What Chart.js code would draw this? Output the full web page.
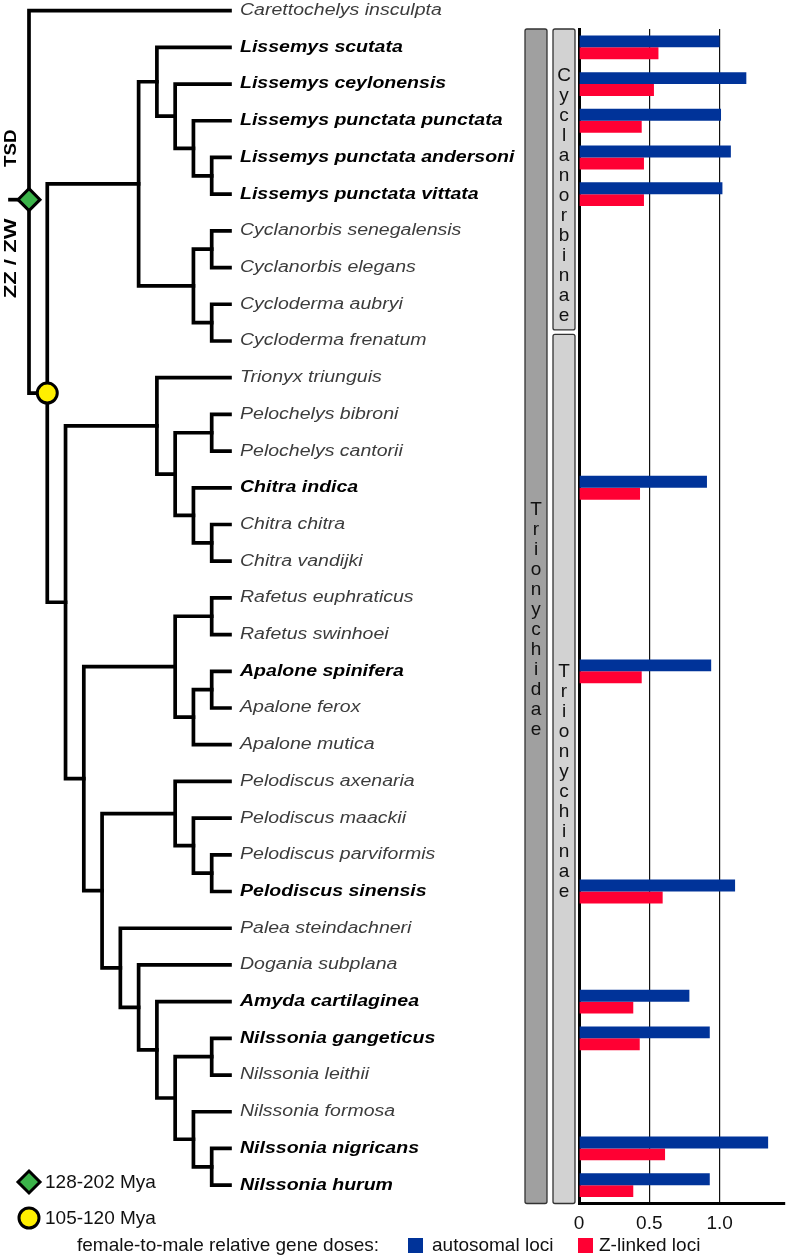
<!DOCTYPE html>
<html>
<head>
<meta charset="utf-8">
<script src="https://cdn.jsdelivr.net/npm/chart.js@4.4.1/dist/chart.umd.min.js"></script>
<style>
    html, body { margin: 0; padding: 0; background: #fff; }
    #wrap { position: relative; width: 787px; height: 1259px; }
</style>
</head>
<body>
<div id="wrap"><canvas id="chart"></canvas></div>
<script>
// species, top to bottom (row index = position in the tree)
const species = [
    'Carettochelys insculpta',
    'Lissemys scutata', 'Lissemys ceylonensis', 'Lissemys punctata punctata',
    'Lissemys punctata andersoni', 'Lissemys punctata vittata',
    'Cyclanorbis senegalensis', 'Cyclanorbis elegans', 'Cycloderma aubryi', 'Cycloderma frenatum',
    'Trionyx triunguis', 'Pelochelys bibroni', 'Pelochelys cantorii',
    'Chitra indica', 'Chitra chitra', 'Chitra vandijki',
    'Rafetus euphraticus', 'Rafetus swinhoei',
    'Apalone spinifera', 'Apalone ferox', 'Apalone mutica',
    'Pelodiscus axenaria', 'Pelodiscus maackii', 'Pelodiscus parviformis', 'Pelodiscus sinensis',
    'Palea steindachneri', 'Dogania subplana', 'Amyda cartilaginea',
    'Nilssonia gangeticus', 'Nilssonia leithii', 'Nilssonia formosa',
    'Nilssonia nigricans', 'Nilssonia hurum'
];

// female-to-male relative gene doses (null = not sampled)
const autosomal = [null, 1.0, 1.19, 1.01, 1.08, 1.02, null, null, null, null,
    null, null, null, 0.91, null, null, null, null, 0.94, null, null,
    null, null, null, 1.11, null, null, 0.785, 0.93, null, null, 1.345, 0.93];
const zLinked = [null, 0.565, 0.533, 0.446, 0.462, 0.462, null, null, null, null,
    null, null, null, 0.434, null, null, null, null, 0.446, null, null,
    null, null, null, 0.595, null, null, 0.386, 0.432, null, null, 0.612, 0.386];

const xTicks = [0, 0.5, 1.0];

// topology: node(level, ...children), leaves are row indices
function node(level, ...kids) { return { level, kids }; }
const trionychidae = node(1,
    node(6,
        node(7, 1, node(8, 2, node(9, 3, node(10, 4, 5)))),
        node(9, node(10, 6, 7), node(10, 8, 9))
    ),
    node(2,
        node(7, 10, node(8, node(10, 11, 12), node(9, 13, node(10, 14, 15)))),
        node(3,
            node(8, node(10, 16, 17), node(9, node(10, 18, 19), 20)),
            node(4,
                node(8, 21, node(9, 22, node(10, 23, 24))),
                node(5, 25, node(6, 26, node(7, 27,
                    node(8, node(10, 28, 29), node(9, 30, node(10, 31, 32))))))
            )
        )
    )
);
const tree = node(0, 0, trionychidae);

// clade bars: name, first row edge, last row edge, letter centre row
const clades = [
    { name: 'Trionychidae', from: 0.5, to: 32.5, mid: 16.6, col: 0 },
    { name: 'Cyclanorbinae', from: 0.5, to: 8.7, mid: 5.05, col: 1 },
    { name: 'Trionychinae', from: 8.82, to: 32.5, mid: 21.0, col: 1 }
];

const TREE_LEFT = 29;
const TREE_STEP = 18.27;
const TIP_LEVEL = 11;
const SANS = '"Liberation Sans", Arial, sans-serif';

function treeX(level) { return TREE_LEFT + level * TREE_STEP; }

function text(ctx, s, x, y, font, color, sx, align) {
    ctx.save();
    ctx.font = font;
    ctx.fillStyle = color;
    ctx.textBaseline = 'middle';
    ctx.textAlign = align || 'left';
    ctx.translate(x, y);
    ctx.scale(sx || 1, 1);
    ctx.fillText(s, 0, 0);
    ctx.restore();
}

function diamond(ctx, x, y, r) {
    ctx.beginPath();
    ctx.moveTo(x, y - r); ctx.lineTo(x + r, y); ctx.lineTo(x, y + r); ctx.lineTo(x - r, y);
    ctx.closePath();
    ctx.fillStyle = '#3cb34a';
    ctx.fill();
    ctx.lineWidth = 3;
    ctx.strokeStyle = '#000';
    ctx.stroke();
}

function circle(ctx, x, y, r) {
    ctx.beginPath();
    ctx.arc(x, y, r, 0, Math.PI * 2);
    ctx.fillStyle = '#ffef00';
    ctx.fill();
    ctx.lineWidth = 3;
    ctx.strokeStyle = '#000';
    ctx.stroke();
}

// draws the node, returns its position
function drawNode(ctx, n, rowY, marks) {
    if (typeof n === 'number') return { x: treeX(TIP_LEVEL), y: rowY(n) };
    const x = treeX(n.level);
    const kids = n.kids.map(k => drawNode(ctx, k, rowY, marks));
    ctx.beginPath();
    kids.forEach(k => { ctx.moveTo(x, k.y); ctx.lineTo(k.x, k.y); });
    ctx.moveTo(x, kids[0].y);
    ctx.lineTo(x, kids[kids.length - 1].y);
    ctx.stroke();
    const pos = { x: x, y: (kids[0].y + kids[kids.length - 1].y) / 2 };
    if (n === trionychidae) marks.circle = pos;
    return pos;
}

const treePlugin = {
    id: 'tree',
    afterDraw(chart) {
        const ctx = chart.ctx;
        const yScale = chart.scales.y;
        const rowY = i => yScale.getPixelForValue(i);

        // tree
        ctx.save();
        ctx.strokeStyle = '#000';
        ctx.lineWidth = 3.7;
        ctx.lineCap = 'square';
        const marks = {};
        drawNode(ctx, tree, rowY, marks);

        // TSD -> ZZ/ZW transition on the stem
        const dy = rowY(5.15);
        ctx.beginPath();
        ctx.moveTo(10, dy); ctx.lineTo(treeX(0), dy);
        ctx.stroke();
        ctx.restore();
        diamond(ctx, treeX(0), dy, 11);
        circle(ctx, marks.circle.x, marks.circle.y, 10);

        ctx.save();
        ctx.translate(11, rowY(3.75));
        ctx.rotate(-Math.PI / 2);
        text(ctx, 'TSD', 0, 0, 'bold 17px ' + SANS, '#000', 1.1, 'center');
        ctx.restore();
        ctx.save();
        ctx.translate(11, rowY(6.75));
        ctx.rotate(-Math.PI / 2);
        text(ctx, 'ZZ / ZW', 0, 0, 'bold 17px ' + SANS, '#000', 1.3, 'center');
        ctx.restore();

        // species names
        species.forEach((s, i) => {
            const sampled = autosomal[i] !== null;
            text(ctx, s, 240, rowY(i),
                (sampled ? 'italic bold 16px ' : 'italic 16px ') + SANS,
                sampled ? '#000' : '#3c3c3c', 1.22);
        });

        // clade bars
        clades.forEach(c => {
            const x0 = c.col === 0 ? 525 : 553;
            const top = rowY(c.from), bottom = rowY(c.to);
            ctx.beginPath();
            ctx.roundRect(x0, top, 22, bottom - top, 2);
            ctx.fillStyle = c.col === 0 ? '#a0a0a0' : '#d2d2d2';
            ctx.fill();
            ctx.lineWidth = 1.3;
            ctx.strokeStyle = '#333';
            ctx.stroke();
            const step = 20;
            const start = rowY(c.mid) - (c.name.length - 1) / 2 * step;
            c.name.split('').forEach((ch, k) => {
                text(ctx, ch, x0 + 11, start + k * step, '19px ' + SANS, '#111', 1, 'center');
            });
        });

        // node age legend
        diamond(ctx, 29, 1182, 11);
        text(ctx, '128-202 Mya', 45, 1183, '19px ' + SANS, '#111');
        circle(ctx, 29, 1218, 10);
        text(ctx, '105-120 Mya', 45, 1219, '19px ' + SANS, '#111');

        // series legend
        text(ctx, 'female-to-male relative gene doses:', 77, 1246, '19px ' + SANS, '#111');
        ctx.fillStyle = '#003399';
        ctx.fillRect(408, 1238, 15, 15);
        text(ctx, 'autosomal loci', 432, 1246, '19px ' + SANS, '#111');
        ctx.fillStyle = '#ff0033';
        ctx.fillRect(578, 1238, 15, 15);
        text(ctx, 'Z-linked loci', 599, 1246, '19px ' + SANS, '#111');
    }
};

new Chart(document.getElementById('chart'), {
    type: 'bar',
    data: {
        labels: species,
        datasets: [
            { label: 'autosomal loci', data: autosomal, backgroundColor: '#003399' },
            { label: 'Z-linked loci', data: zLinked, backgroundColor: '#ff0033' }
        ]
    },
    options: {
        indexAxis: 'y',
        responsive: true,
        maintainAspectRatio: false,
        animation: false,
        devicePixelRatio: 1,
        categoryPercentage: 0.65,
        barPercentage: 1.0,
        layout: { padding: { left: 579, top: 29, right: 2, bottom: 0 } },
        plugins: { legend: { display: false }, tooltip: { enabled: false } },
        scales: {
            y: {
                min: 'Lissemys scutata',
                grid: { display: false },
                ticks: { display: false },
                border: { display: true, color: '#000', width: 3 },
                afterFit: scale => { scale.width = 0; }
            },
            x: {
                min: 0,
                max: 1.465,
                afterBuildTicks: scale => { scale.ticks = xTicks.map(v => ({ value: v })); },
                grid: {
                    drawTicks: false,
                    color: c => (c.tick && c.tick.value === 0) ? 'rgba(0,0,0,0)' : '#111',
                    lineWidth: 1.2
                },
                border: { display: true, color: '#000', width: 3 },
                ticks: {
                    padding: 9,
                    color: '#111',
                    font: { family: 'Liberation Sans', size: 19 },
                    callback: v => v === 0 ? '0' : v.toFixed(1)
                },
                afterFit: scale => { scale.height = 55.5; }
            }
        }
    },
    plugins: [treePlugin]
});
</script>
</body>
</html>
